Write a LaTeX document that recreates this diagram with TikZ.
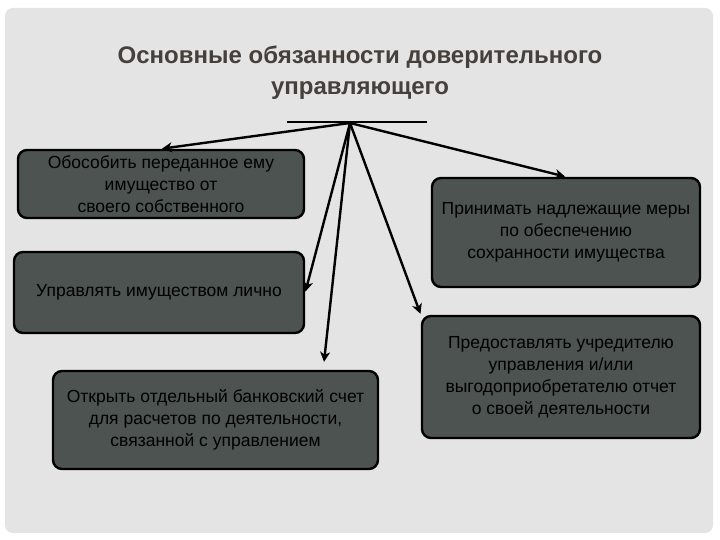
\documentclass[tikz,border=0pt]{standalone}
\usepackage{fontspec}
\setmainfont{Liberation Sans}
\usepackage{xcolor}
\usepackage{tikz}
\usetikzlibrary{arrows.meta}

\definecolor{panelgray}{HTML}{E4E4E4}
\definecolor{boxgray}{HTML}{4C5351}
\definecolor{titlegray}{HTML}{45403B}

\tikzset{
    duty/.style = {draw = black, line width = 2.4pt, rounded corners = 9pt,
        fill = boxgray, text = black, align = center, inner sep = 0pt,
        font = \fontsize{17.5}{22}\selectfont},
    arr/.style = {-{Stealth[length = 10pt, width = 10pt, inset = 3pt]},
        line width = 2.4pt, shorten >= 1pt},
    headline/.style = {font = \bfseries\fontsize{24}{31}\selectfont,
        align = center, text = titlegray}
}

\begin{document}
\begin{tikzpicture}[x = 1pt, y = -1pt]
        \useasboundingbox (0, 0) rectangle (720, 540);
        \fill[white] (0, 0) rectangle (720, 540);
        \fill[panelgray, rounded corners = 8pt] (5, 8) rectangle (713, 533);

        % title
        \node[headline] (title) at (360, 73)
            {Основные обязанности доверительного\\управляющего};

        % hub
        \coordinate (hubL) at (287, 122);
        \coordinate (hubR) at (427, 122);
        \coordinate (hub) at (350, 123);
        \draw[line width = 2.4pt] (hubL) -- (hubR);

        % duties
        \node[duty, minimum width = 286pt, minimum height = 68pt] (keep) at (161, 184)
            {Обособить переданное ему\\имущество от\\своего собственного};
        \node[duty, minimum width = 290pt, minimum height = 81pt] (manage) at (159, 292.5)
            {Управлять имуществом лично};
        \node[duty, minimum width = 325pt, minimum height = 98pt] (account) at (215.5, 420)
            {Открыть отдельный банковский счет\\для расчетов по деятельности,\\связанной с управлением};
        \node[duty, minimum width = 268pt, minimum height = 109pt] (safety) at (566, 232.5)
            {Принимать надлежащие меры\\по обеспечению\\сохранности имущества};
        \node[duty, minimum width = 278pt, minimum height = 122pt] (report) at (561, 377)
            {Предоставлять учредителю\\управления и/или\\выгодоприобретателю отчет\\о своей деятельности};

        % arrows
        \draw[arr] (hub) -- (keep.north);
        \draw[arr] (hub) -- (manage.east);
        \draw[arr, shorten >= 8pt] (hub) -- (account.25);
        \draw[arr] (hub) -- (report.north west);
        \draw[arr] (hub) -- (safety.north);
    \end{tikzpicture}
\end{document}
